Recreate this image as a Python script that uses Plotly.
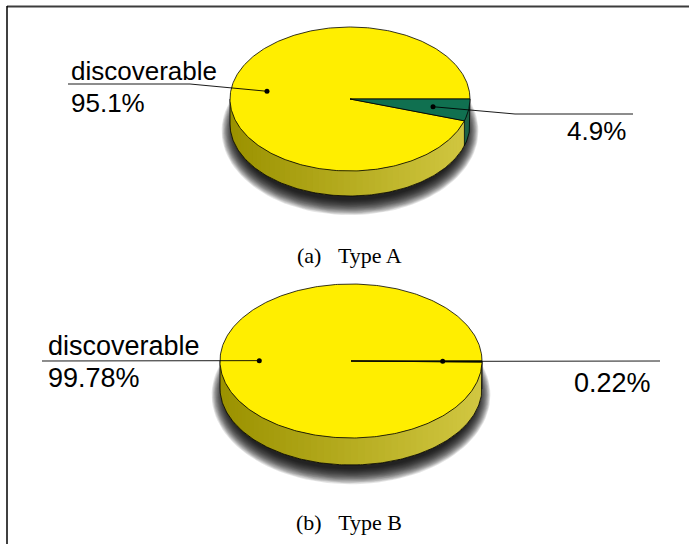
import numpy as np
import plotly.graph_objects as go

# ---------------- data ----------------
captions = ["(a)\u00a0\u00a0\u00a0Type A", "(b)\u00a0\u00a0\u00a0Type B"]
slice_names = ["discoverable", ""]
values_a = [95.1, 4.9]
values_b = [99.78, 0.22]
pct_labels_a = ["95.1%", "4.9%"]
pct_labels_b = ["99.78%", "0.22%"]

# ---------------- style / layout ----------------
W, H = 689, 544
YELLOW = "rgb(255,238,0)"
GREEN = "rgb(16,112,80)"
slice_colors = [YELLOW, GREEN]
side_left = {YELLOW: np.array([155, 146, 0]), GREEN: np.array([15, 80, 55])}
side_right = {YELLOW: np.array([210, 200, 66]), GREEN: np.array([30, 100, 72])}

pies = [
    dict(values=values_a, labels=pct_labels_a, cx=350, cy=99, rx=120, ry=72, depth=25,
         font=26, cap_y=255,
         left_line=dict(x_end=68, x_elbow=190, y=84, tx=69, ty_name=71, ty_pct=103),
         right_line=dict(x_end=633, x_elbow=515, y=114, tx=628, ty_pct=131)),
    dict(values=values_b, labels=pct_labels_b, cx=351, cy=361, rx=131, ry=77, depth=27,
         font=27, cap_y=522,
         left_line=dict(x_end=42, x_elbow=None, y=361, tx=46, ty_name=346, ty_pct=378),
         right_line=dict(x_end=660, x_elbow=None, y=361, tx=653, ty_pct=383)),
]

fig = go.Figure()


def ell(cx, cy, rx, ry, t):
    return cx + rx * np.cos(t), cy + ry * np.sin(t)


def add_poly(xs, ys, fill, line_color=None, line_width=0):
    fig.add_trace(go.Scatter(
        x=list(xs), y=list(ys), mode="lines", fill="toself", fillcolor=fill,
        line=dict(color=line_color or fill, width=line_width),
        hoverinfo="skip", showlegend=False))


annotations = []
for p in pies:
    vals = np.array(p["values"], dtype=float)
    frac = vals / vals.sum()
    cx, cy, rx, ry, d = p["cx"], p["cy"], p["rx"], p["ry"], p["depth"]
    # small slice (index 1) starts at 3 o'clock going clockwise, big slice follows
    small = 2 * np.pi * frac[1]
    spans = {1: (0.0, small), 0: (small, 2 * np.pi)}

    # ---- shadow ----
    n_sh = 18
    for k in range(n_sh):
        s = (n_sh - k)
        t = np.linspace(0, 2 * np.pi, 120)
        xs, ys = ell(cx, cy + d + 7, rx - 6 + s * 0.8, ry - 4 + s * 0.9, t)
        add_poly(xs, ys, "rgba(0,0,0,0.10)")

    # ---- side (front half) ----
    n_strips = 60
    edges = np.linspace(0, np.pi, n_strips + 1)
    step = edges[1] - edges[0]
    for i in range(n_strips):
        a0, a1 = edges[i], edges[i + 1]
        am = 0.5 * (a0 + a1)
        idx = 1 if am < small else 0
        col = slice_colors[idx]
        xm = cx + rx * np.cos(am)
        f = (xm - (cx - rx)) / (2 * rx)
        c = side_left[col] + f * (side_right[col] - side_left[col])
        rgb = "rgb(%d,%d,%d)" % tuple(c.astype(int))
        a1e = min(np.pi, a1 + 0.7 * step)
        if idx == 1:
            a1e = min(a1e, small)
        t = np.linspace(a0, a1e, 5)
        xt, yt = ell(cx, cy, rx, ry, t)
        xs = np.concatenate([xt, xt[::-1]])
        ys = np.concatenate([yt, yt[::-1] + d])
        add_poly(xs, ys, rgb)
    # side outline
    t = np.linspace(0, np.pi, 200)
    xb, yb = ell(cx, cy, rx, ry, t)
    fig.add_trace(go.Scatter(
        x=[cx + rx] + list(xb) + [cx - rx], y=[cy] + list(yb + d) + [cy],
        mode="lines", line=dict(color="black", width=0.8), hoverinfo="skip", showlegend=False))
    if small < np.pi:
        xs_, ys_ = ell(cx, cy, rx, ry, small)
        fig.add_trace(go.Scatter(x=[xs_, xs_], y=[ys_, ys_ + d], mode="lines",
                                 line=dict(color="black", width=0.6),
                                 hoverinfo="skip", showlegend=False))

    # ---- top face slices ----
    for idx in (0, 1):
        a0, a1 = spans[idx]
        t = np.linspace(a0, a1, max(3, int(400 * (a1 - a0) / (2 * np.pi)) + 3))
        xt, yt = ell(cx, cy, rx, ry, t)
        add_poly(np.concatenate([[cx], xt, [cx]]), np.concatenate([[cy], yt, [cy]]),
                 slice_colors[idx], "black", 0.8)

    # ---- leader lines & labels ----
    mids = {i: 0.5 * (spans[i][0] + spans[i][1]) for i in (0, 1)}
    dots = {i: ell(cx, cy, 0.7 * rx, 0.7 * ry, mids[i]) for i in (0, 1)}
    L, R = p["left_line"], p["right_line"]
    for line, idx in ((L, 0), (R, 1)):
        dx, dy = dots[idx]
        if line["x_elbow"] is not None:
            xs = [line["x_end"], line["x_elbow"], dx]
            ys = [line["y"], line["y"], dy]
        else:
            xs = [line["x_end"], dx]
            ys = [line["y"], dy]
        fig.add_trace(go.Scatter(x=xs, y=ys, mode="lines",
                                 line=dict(color="black", width=0.9),
                                 hoverinfo="skip", showlegend=False))
        fig.add_trace(go.Scatter(x=[dx], y=[dy], mode="markers",
                                 marker=dict(color="black", size=5),
                                 hoverinfo="skip", showlegend=False))
    lab_font = dict(family="Liberation Sans, Arial, sans-serif", size=p["font"], color="black")
    annotations.append(dict(x=L["tx"], y=L["ty_name"], text=slice_names[0], xanchor="left",
                            yanchor="middle", showarrow=False, font=lab_font))
    annotations.append(dict(x=L["tx"], y=L["ty_pct"], text=p["labels"][0], xanchor="left",
                            yanchor="middle", showarrow=False, font=lab_font))
    annotations.append(dict(x=R["tx"], y=R["ty_pct"], text=p["labels"][1], xanchor="right",
                            yanchor="middle", showarrow=False, font=lab_font))

for cap, p in zip(captions, pies):
    annotations.append(dict(x=349, y=p["cap_y"], text=cap, xanchor="center", yanchor="middle",
                            showarrow=False,
                            font=dict(family="Liberation Serif, Times New Roman, serif",
                                      size=22, color="black")))

# frame lines
shapes = [
    dict(type="line", xref="x", yref="y", x0=7, y0=6.5, x1=W, y1=6.5,
         line=dict(color="rgb(60,60,60)", width=2)),
    dict(type="line", xref="x", yref="y", x0=7, y0=6, x1=7, y1=H,
         line=dict(color="black", width=1.5)),
]

fig.update_layout(
    width=W, height=H, margin=dict(l=0, r=0, t=0, b=0),
    paper_bgcolor="white", plot_bgcolor="white",
    xaxis=dict(range=[0, W], visible=False, fixedrange=True),
    yaxis=dict(range=[H, 0], visible=False, fixedrange=True),
    annotations=annotations, shapes=shapes, showlegend=False,
)
fig.write_html("out.html", config={"displayModeBar": False},
               post_script="document.body.style.margin='0';document.body.style.overflow='hidden';")
